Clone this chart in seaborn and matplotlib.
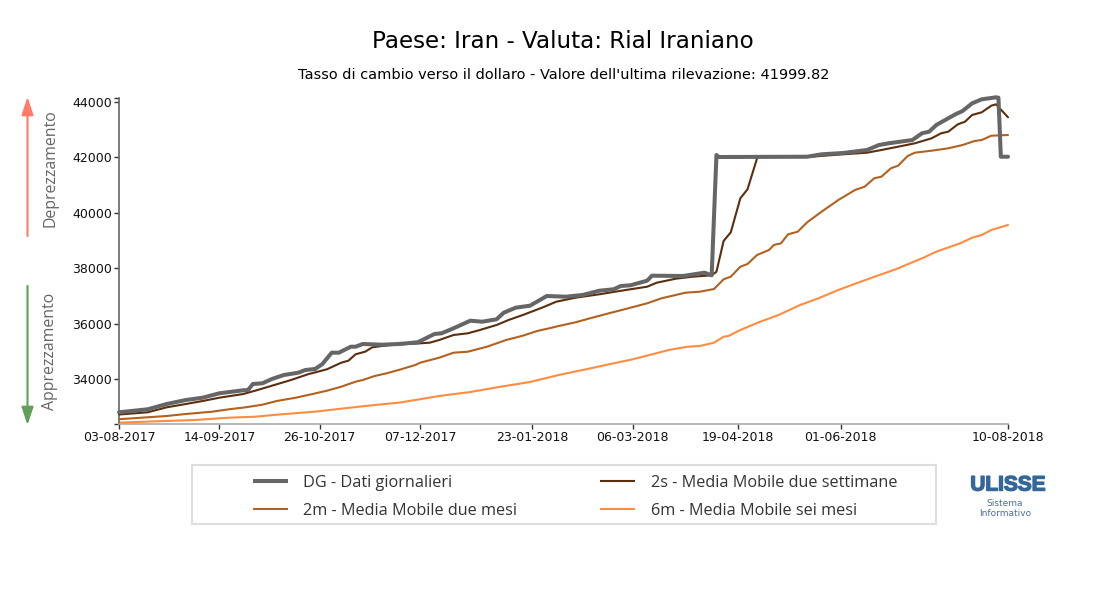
import numpy as np
import matplotlib
matplotlib.use("Agg")
import matplotlib.pyplot as plt
import matplotlib.dates as mdates
import matplotlib.patheffects as pe
import seaborn as sns
import pandas as pd
from matplotlib.patches import Rectangle, FancyArrowPatch

start_date = "2017-08-03"

dg_days = [0, 12, 20, 28, 35, 42, 52, 54, 56, 60, 64, 69, 75, 78, 82, 85, 89, 92, 97, 99, 102, 110, 117, 125, 132, 135,
           140, 147, 152, 158, 161, 166, 172, 179, 187, 194, 201, 207, 210, 214, 221, 223, 236, 245, 248, 250, 251,
           288, 294, 303, 313, 318, 322, 332, 336, 339, 342, 344, 350, 353, 357, 361, 367, 368, 369, 372]
dg_values = [32800, 32908, 33099, 33243, 33326, 33485, 33593, 33604, 33820, 33845, 34000, 34144, 34227, 34324, 34360,
             34530, 34948, 34948, 35164, 35164, 35261, 35236, 35261, 35323, 35622, 35647, 35827, 36101, 36065, 36152,
             36389, 36570, 36642, 36991, 36966, 37027, 37182, 37233, 37352, 37377, 37543, 37723, 37712, 37831, 37737,
             42073, 42000, 42011, 42098, 42145, 42253, 42433, 42494, 42613, 42855, 42913, 43154, 43251, 43540, 43659,
             43936, 44080, 44152, 44138, 42011, 42011]

s2_days = [0, 12, 20, 28, 35, 42, 52, 58, 65, 72, 79, 87, 93, 96, 99, 103, 106, 110, 115, 125, 130, 134, 140, 146, 151,
           158, 163, 169, 177, 183, 191, 201, 212, 221, 225, 233, 240, 248, 250, 253, 256, 260, 263, 267, 268, 288,
           294, 303, 313, 319, 326, 333, 340, 344, 347, 351, 354, 357, 361, 365, 367, 372]
s2_values = [32720, 32800, 32980, 33099, 33207, 33326, 33459, 33604, 33784, 33964, 34169, 34350, 34587, 34660, 34890,
             34984, 35142, 35189, 35236, 35280, 35308, 35405, 35586, 35647, 35766, 35946, 36126, 36307, 36570, 36786,
             36930, 37053, 37207, 37326, 37470, 37615, 37687, 37737, 37867, 38974, 39287, 40512, 40837, 41955, 42000,
             42000, 42040, 42098, 42156, 42253, 42372, 42494, 42674, 42855, 42913, 43179, 43273, 43515, 43612, 43850,
             43900, 43432]

m2_days = [0, 12, 20, 28, 39, 46, 53, 60, 66, 74, 81, 87, 93, 99, 102, 107, 112, 118, 124, 126, 134, 140, 146, 154, 162,
           169, 175, 180, 184, 191, 198, 205, 212, 221, 227, 237, 243, 249, 253, 256, 260, 263, 267, 272, 274, 277,
           280, 284, 288, 294, 301, 308, 312, 316, 319, 323, 326, 330, 333, 340, 347, 353, 358, 361, 365, 372]
m2_values = [32550, 32620, 32667, 32739, 32822, 32908, 32980, 33074, 33207, 33326, 33459, 33578, 33722, 33903, 33964,
             34108, 34205, 34350, 34505, 34587, 34768, 34948, 34984, 35164, 35405, 35561, 35730, 35827, 35910, 36043,
             36209, 36368, 36523, 36728, 36908, 37110, 37146, 37243, 37593, 37687, 38047, 38145, 38469, 38649, 38829,
             38890, 39215, 39309, 39650, 40030, 40451, 40812, 40930, 41233, 41290, 41594, 41687, 42037, 42156, 42228,
             42314, 42433, 42577, 42613, 42768, 42794]

m6_days = [0, 19, 32, 46, 57, 68, 82, 93, 107, 117, 124, 134, 147, 159, 172, 184, 196, 207, 215, 222, 230, 238, 243,
           249, 253, 255, 260, 268, 276, 285, 293, 301, 310, 319, 325, 331, 337, 342, 346, 352, 357, 361, 365, 372]
m6_values = [32425, 32486, 32522, 32605, 32641, 32728, 32822, 32930, 33063, 33146, 33243, 33387, 33531, 33712, 33892,
             34144, 34360, 34566, 34710, 34865, 35045, 35164, 35189, 35308, 35524, 35550, 35766, 36054, 36307, 36667,
             36919, 37208, 37496, 37773, 37954, 38170, 38386, 38588, 38710, 38890, 39092, 39190, 39370, 39550]

tick_dates = ["2017-08-03", "2017-09-14", "2017-10-26", "2017-12-07", "2018-01-23", "2018-03-06", "2018-04-19",
              "2018-06-01", "2018-08-10"]
y_ticks = [34000, 36000, 38000, 40000, 42000, 44000]


def to_dates(days):
    return pd.Timestamp(start_date) + pd.to_timedelta(days, unit="D")


sns.set_style("white")
plt.rcParams["font.family"] = ["DejaVu Sans"]

fig = plt.figure(figsize=(11, 6), dpi=100)
W, H = 1100, 600
ax = fig.add_axes([119 / W, 1 - 424 / H, (1008 - 119) / W, (424 - 98) / H])

# daily data last so it stays on top of the moving averages
sns.lineplot(x=to_dates(m6_days), y=m6_values, ax=ax, color="#ff8c40", linewidth=1.5, label="6m - Media Mobile sei mesi", zorder=2)
sns.lineplot(x=to_dates(m2_days), y=m2_values, ax=ax, color="#b3611f", linewidth=1.5, label="2m - Media Mobile due mesi", zorder=3)
sns.lineplot(x=to_dates(s2_days), y=s2_values, ax=ax, color="#5a2e0e", linewidth=1.5, label="2s - Media Mobile due settimane", zorder=4)
sns.lineplot(x=to_dates(dg_days), y=dg_values, ax=ax, color="#666666", linewidth=2.9, label="DG - Dati giornalieri", zorder=5)
# the daily line goes slightly over the top of the axis
for line in ax.get_lines():
    line.set_clip_on(False)

ax.set_xlim(pd.Timestamp("2017-08-03"), pd.Timestamp("2018-08-10"))
ax.set_ylim(32378, 44127)
ax.set(xlabel="", ylabel="")

ax.set_xticks(pd.to_datetime(tick_dates))
ax.xaxis.set_major_formatter(mdates.DateFormatter("%d-%m-%Y"))
ax.set_yticks(y_ticks)
ax.set_yticks([32378, 44127], minor=True)
ax.tick_params(axis="both", which="major", labelsize=9, length=3.6, width=1, color="#333333", labelcolor="#111111", pad=1.5, left=True, bottom=True)
ax.tick_params(axis="y", which="minor", length=3.6, width=1, color="#333333", left=True)

sns.despine(ax=ax)
ax.spines["left"].set_color("#666666")
ax.spines["left"].set_linewidth(1.2)
ax.spines["bottom"].set_color("#aaaaaa")
ax.spines["bottom"].set_linewidth(1.2)

fig.text(563 / W, 1 - 41 / H, "Paese: Iran - Valuta: Rial Iraniano", ha="center", va="center", fontsize=16.6, color="black")
fig.text(564 / W, 1 - 75 / H, "Tasso di cambio verso il dollaro - Valore dell'ultima rilevazione: 41999.82", ha="center", va="center", fontsize=10.42, color="black")

# arrows at the left of the y axis
fig.add_artist(FancyArrowPatch((27.5 / W, 1 - 236 / H), (27.5 / W, 1 - 97 / H), transform=fig.transFigure, arrowstyle="-|>,head_length=0.72,head_width=0.24",
                               mutation_scale=15, color="#ff7a68", linewidth=1.5, shrinkA=0, shrinkB=0))
fig.add_artist(FancyArrowPatch((27.5 / W, 1 - 286 / H), (27.5 / W, 1 - 425 / H), transform=fig.transFigure, arrowstyle="-|>,head_length=0.72,head_width=0.24",
                               mutation_scale=15, color="#5f9f58", linewidth=1.5, shrinkA=0, shrinkB=0))
fig.text(50 / W, 1 - 168.5 / H, "Deprezzamento", rotation=90, ha="center", va="center", fontsize=11.4, color="#666666", family="Open Sans")
fig.text(50 / W, 1 - 351.5 / H, "Apprezzamento", rotation=90, ha="center", va="center", fontsize=11.4, color="#666666", family="Open Sans")

# legend box is a separate rectangle because the entries sit well inside it
fig.add_artist(Rectangle((192 / W, 1 - 524 / H), 744 / W, 59 / H, transform=fig.transFigure, facecolor="white", edgecolor="#dddddd", linewidth=1.5, zorder=-1))
h, l = ax.get_legend_handles_labels()
order = [3, 1, 2, 0]
leg = ax.legend([h[i] for i in order], [l[i] for i in order], ncol=2, loc="upper left", bbox_to_anchor=(253 / W, 1 - 475 / H),
                bbox_transform=fig.transFigure, frameon=False, borderpad=0, borderaxespad=0,
                handlelength=2.15, handletextpad=0.95, columnspacing=5.1, labelspacing=0.74,
                prop={"family": "Open Sans", "size": 11.7})
for t in leg.get_texts():
    t.set_color("#333333")
for line, lw in zip(leg.get_lines(), [2.9, 1.5, 1.5, 1.5]):
    line.set_linewidth(lw)
    line.set_solid_capstyle("butt")

# logo
fig.text(1008 / W, 1 - 485 / H, "ULISSE", ha="center", va="center", fontsize=15, fontweight="bold", color="#336699", family="Liberation Sans",
         path_effects=[pe.withStroke(linewidth=1, foreground="#336699")])
fig.text(1005 / W, 1 - 504 / H, "Sistema", ha="center", va="center", fontsize=6.5, color="#4a6f9c")
fig.text(1005 / W, 1 - 514 / H, "Informativo", ha="center", va="center", fontsize=6.5, color="#4a6f9c")

fig.savefig("out.png", dpi=100)
plt.close(fig)
